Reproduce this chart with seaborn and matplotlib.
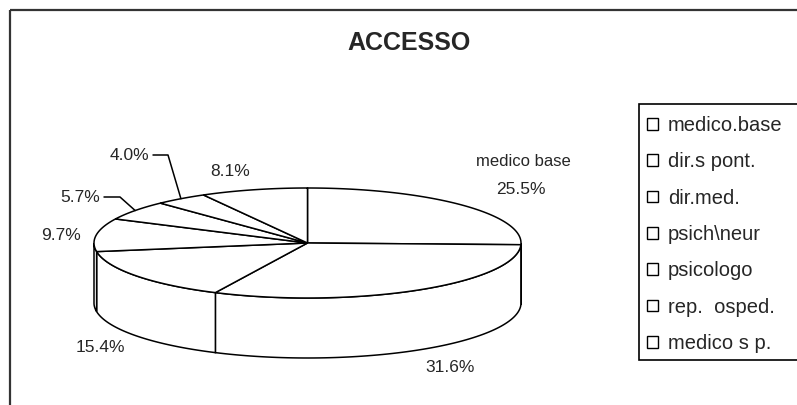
import numpy as np
import matplotlib
matplotlib.use("Agg")
import matplotlib.pyplot as plt
from matplotlib.patches import Patch, Rectangle
import seaborn as sns

# Access channels and their shares (%)
categories = ["medico.base", "dir.s pont.", "dir.med.", "psich\\neur",
              "psicologo", "rep.  osped.", "medico s p."]
shares = [25.5, 31.6, 15.4, 9.7, 5.7, 4.0, 8.1]
title = "ACCESSO"

sns.set_theme(style="white")
plt.rcParams["font.family"] = ["Liberation Sans", "DejaVu Sans"]

W, H = 797, 405
fig = plt.figure(figsize=(W / 100, H / 100), dpi=100)
ax = fig.add_axes([0, 0, 1, 1])
ax.set_xlim(0, W)
ax.set_ylim(H, 0)
ax.axis("off")

# Elliptical 3D pie geometry (pixel-like data units)
cx, cy, a, b, depth = 307.5, 243.0, 213.5, 55.0, 60.0
lw = 1.1


def pt(t, dy=0.0):
    t = np.radians(t)
    return cx + a * np.cos(t), cy - b * np.sin(t) + dy


vals = np.asarray(shares, dtype=float)
bounds = 90 - np.concatenate([[0], np.cumsum(vals)]) / vals.sum() * 360
starts, ends = bounds[:-1], bounds[1:]

# Side walls on the visible (front) half
for s, e in zip(starts, ends):
    lo, hi = max(e, -180.0), min(s, 0.0)
    if hi <= lo:
        continue
    ts = np.linspace(lo, hi, 80)
    top = np.array([pt(t) for t in ts])
    bot = np.array([pt(t, depth) for t in ts[::-1]])
    poly = np.vstack([top, bot])
    ax.fill(poly[:, 0], poly[:, 1], facecolor="white", edgecolor="black",
            linewidth=lw, zorder=2)

# Top faces
for s, e in zip(starts, ends):
    ts = np.linspace(s, e, 120)
    arc = np.array([pt(t) for t in ts])
    poly = np.vstack([[cx, cy], arc])
    ax.fill(poly[:, 0], poly[:, 1], facecolor="white", edgecolor="black",
            linewidth=lw, joinstyle="miter", zorder=3)

# Percentage labels
lab_fs = 12.5
mids = (starts + ends) / 2


def pct(v):
    return f"{v:.1f}%"


ax.text(523, 162, "medico base", fontsize=12, ha="center", va="center", zorder=5)
ax.text(521, 190, pct(shares[0]), fontsize=lab_fs, ha="center", va="center", zorder=5)
ax.text(450, 367, pct(shares[1]), fontsize=lab_fs, ha="center", va="center", zorder=5)
ax.text(100, 348, pct(shares[2]), fontsize=lab_fs, ha="center", va="center", zorder=5)
ax.text(61, 235, pct(shares[3]), fontsize=lab_fs, ha="center", va="center", zorder=5)
ax.text(80, 197, pct(shares[4]), fontsize=lab_fs, ha="center", va="center", zorder=5)
ax.text(129, 155, pct(shares[5]), fontsize=lab_fs, ha="center", va="center", zorder=5)
ax.text(230, 172, pct(shares[6]), fontsize=lab_fs, ha="center", va="center", zorder=5)

# Leader lines for the two thin slices
for i, (x0, x1, y) in {4: (104, 120, 197), 5: (153, 168, 155)}.items():
    ex, ey = pt(mids[i])
    ax.plot([x0, x1, ex], [y, y, ey], color="black", linewidth=lw, zorder=4)

# Title
ax.text(409, 43, title, fontsize=18, fontweight="bold", ha="center",
        va="center", zorder=5)

# Outer chart frame
ax.add_patch(Rectangle((10, 10), 800, 410, facecolor="none", edgecolor="#333333",
                       linewidth=1.6, clip_on=False, zorder=1))

# Legend box (runs past the right edge of the figure)
ax.add_patch(Rectangle((639, 104), 200, 256, facecolor="white", edgecolor="black",
                       linewidth=1.2, clip_on=False, zorder=6))

handles = [Patch(facecolor="white", edgecolor="black", linewidth=1.0)
           for _ in categories]
leg = ax.legend(handles, categories, loc="upper left",
                bbox_to_anchor=(647 / W, 1 - 116 / H), bbox_transform=fig.transFigure,
                borderaxespad=0, borderpad=0, fontsize=14.5, frameon=False,
                handlelength=0.55, handleheight=0.5,
                handletextpad=0.5, labelspacing=0.86)
leg.set_zorder(7)

fig.savefig("out.png", dpi=100, facecolor="white")
